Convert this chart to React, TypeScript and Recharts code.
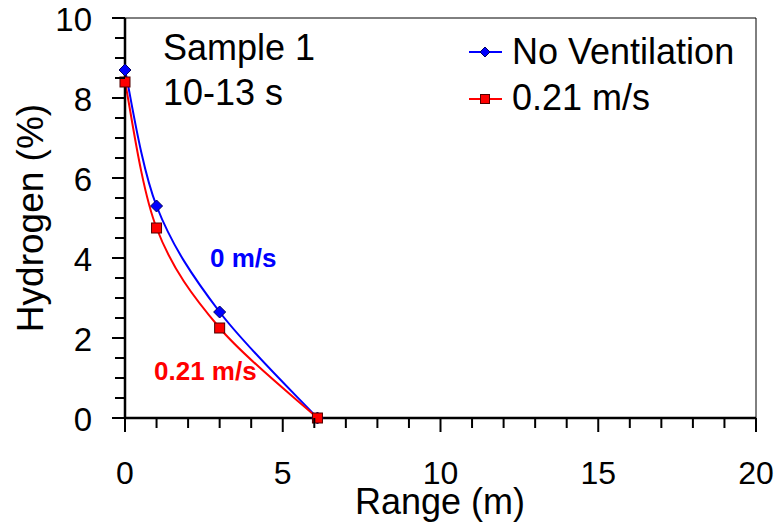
import React from 'react';
import { LineChart, Line, XAxis, YAxis, ReferenceLine, Legend, Customized } from 'recharts';

const rangeM = [0, 1, 3, 6.1];
const noVentilation = [8.7, 5.3, 2.65, 0];
const vent021 = [8.4, 4.75, 2.25, 0];

const xTicks = Array.from({ length: 21 }, (_, i) => i);
const yTicks = Array.from({ length: 21 }, (_, i) => i * 0.5);
const xLabelTicks = [0, 5, 10, 15, 20];
const yLabelTicks = [0, 2, 4, 6, 8, 10];

const seriesNames = ['No Ventilation', '0.21 m/s'];
const annotations = ['Sample 1', '10-13 s', '0 m/s', '0.21 m/s'];

const data = rangeM.map((r, i) => ({ range: r, noVent: noVentilation[i], v021: vent021[i] }));

const FONT = '"Liberation Sans", Arial, sans-serif';
const BLUE = '#0000FF';
const RED = '#FF0000';

// Excel-style smoothed line (Catmull-Rom like Bezier with 1/6 tension)
function excelCurve(context: any) {
  let pts: number[][] = [];
  return {
    areaStart() {},
    areaEnd() {},
    lineStart() {
      pts = [];
    },
    point(x: number, y: number) {
      pts.push([+x, +y]);
    },
    lineEnd() {
      const n = pts.length;
      if (!n) return;
      context.moveTo(pts[0][0], pts[0][1]);
      for (let i = 0; i < n - 1; i++) {
        const p0 = pts[Math.max(i - 1, 0)];
        const p1 = pts[i];
        const p2 = pts[i + 1];
        const p3 = pts[Math.min(i + 2, n - 1)];
        context.bezierCurveTo(
          p1[0] + (p2[0] - p0[0]) / 6,
          p1[1] + (p2[1] - p0[1]) / 6,
          p2[0] - (p3[0] - p1[0]) / 6,
          p2[1] - (p3[1] - p1[1]) / 6,
          p2[0],
          p2[1]
        );
      }
    },
  };
}

const XTick = (props: any) => {
  const { x, y, payload } = props;
  const v = payload.value;
  const major = xLabelTicks.includes(v);
  return (
    <g>
      <line x1={x} x2={x} y1={y} y2={y + (major ? 14 : 10)} stroke="#000" strokeWidth={2} />
      {major && (
        <text x={x} y={y + 66} textAnchor="middle" fontSize={32} fontFamily={FONT} fill="#000">
          {v}
        </text>
      )}
    </g>
  );
};

const YTick = (props: any) => {
  const { x, y, payload } = props;
  const v = payload.value;
  const major = yLabelTicks.includes(v);
  return (
    <g>
      <line x1={x - (major ? 13 : 10)} x2={x} y1={y} y2={y} stroke="#000" strokeWidth={2} />
      {major && (
        <text x={x - 33} y={y + 13} textAnchor="end" fontSize={33} fontFamily={FONT} fill="#000">
          {v}
        </text>
      )}
    </g>
  );
};

const diamondPath = (cx: number, cy: number, r: number) =>
  `M${cx},${cy - r}L${cx + r},${cy}L${cx},${cy + r}L${cx - r},${cy}Z`;

const DiamondDot = (props: any) => {
  const { cx, cy, index } = props;
  if (cx == null || cy == null) return <g key={`dd-${index}`} />;
  return <path key={`dd-${index}`} d={diamondPath(cx, cy, 6)} fill={BLUE} stroke="#000060" strokeWidth={1} />;
};

const SquareDot = (props: any) => {
  const { cx, cy, index } = props;
  if (cx == null || cy == null) return <g key={`sd-${index}`} />;
  return <rect key={`sd-${index}`} x={cx - 5} y={cy - 5} width={10} height={10} fill={RED} stroke="#500000" strokeWidth={1} />;
};

const LegendContent = () => (
  <svg width={300} height={100} style={{ overflow: 'visible' }}>
    <line x1={9} x2={42} y1={32} y2={32} stroke={BLUE} strokeWidth={2} />
    <path d={diamondPath(25, 32, 5)} fill={BLUE} stroke="#000060" strokeWidth={1} />
    <text x={52} y={44} fontSize={36} fontFamily={FONT} fill="#000">
      {seriesNames[0]}
    </text>
    <line x1={9} x2={42} y1={79} y2={79} stroke={RED} strokeWidth={2} />
    <rect x={20.5} y={74.5} width={9} height={9} fill={RED} stroke="#500000" strokeWidth={1} />
    <text x={52} y={90} fontSize={36} fontFamily={FONT} fill="#000">
      {seriesNames[1]}
    </text>
  </svg>
);

const Annotations = () => (
  <g>
    <text x={163} y={60} fontSize={36} fontFamily={FONT} fill="#000">
      {annotations[0]}
    </text>
    <text x={163} y={105} fontSize={36} fontFamily={FONT} fill="#000">
      {annotations[1]}
    </text>
    <text x={210} y={267} fontSize={26} fontWeight="bold" fontFamily={FONT} fill={BLUE}>
      {annotations[2]}
    </text>
    <text x={154} y={380} fontSize={26} fontWeight="bold" fontFamily={FONT} fill={RED}>
      {annotations[3]}
    </text>
    <text
      x={43}
      y={218}
      transform="rotate(-90, 43, 218)"
      textAnchor="middle"
      fontSize={37}
      fontFamily={FONT}
      fill="#000"
    >
      Hydrogen (%)
    </text>
    <text x={440} y={514} textAnchor="middle" fontSize={36} fontFamily={FONT} fill="#000">
      Range (m)
    </text>
  </g>
);

export default function App() {
  return (
    <div style={{ position: 'absolute', left: 0, top: 0, width: 780, height: 532, background: '#fff' }}>
      <LineChart width={780} height={532} data={data} margin={{ top: 18, right: 24, bottom: 0, left: 0 }}>
        <XAxis
          dataKey="range"
          type="number"
          domain={[0, 20]}
          ticks={xTicks}
          interval={0}
          height={114}
          tickSize={0}
          tickMargin={0}
          tickLine={false}
          axisLine={{ stroke: '#000', strokeWidth: 2.5 }}
          tick={<XTick />}
        />
        <YAxis
          type="number"
          domain={[0, 10]}
          ticks={yTicks}
          interval={0}
          width={125}
          tickSize={0}
          tickMargin={0}
          tickLine={false}
          axisLine={{ stroke: '#000', strokeWidth: 2.5 }}
          tick={<YTick />}
        />
        <ReferenceLine y={10} stroke="#000" strokeWidth={1} />
        <ReferenceLine x={20} stroke="#000" strokeWidth={1} />
        <Legend
          layout="horizontal"
          verticalAlign="middle"
          align="center"
          wrapperStyle={{ left: 460, top: 20, width: 300, height: 100 }}
          content={<LegendContent />}
        />
        <Line
          type={excelCurve as any}
          dataKey="noVent"
          name={seriesNames[0]}
          stroke={BLUE}
          strokeWidth={2}
          dot={(p: any) => <DiamondDot {...p} />}
          activeDot={false}
          isAnimationActive={false}
        />
        <Line
          type={excelCurve as any}
          dataKey="v021"
          name={seriesNames[1]}
          stroke={RED}
          strokeWidth={2}
          dot={(p: any) => <SquareDot {...p} />}
          activeDot={false}
          isAnimationActive={false}
        />
        <Customized component={<Annotations />} />
      </LineChart>
    </div>
  );
}
